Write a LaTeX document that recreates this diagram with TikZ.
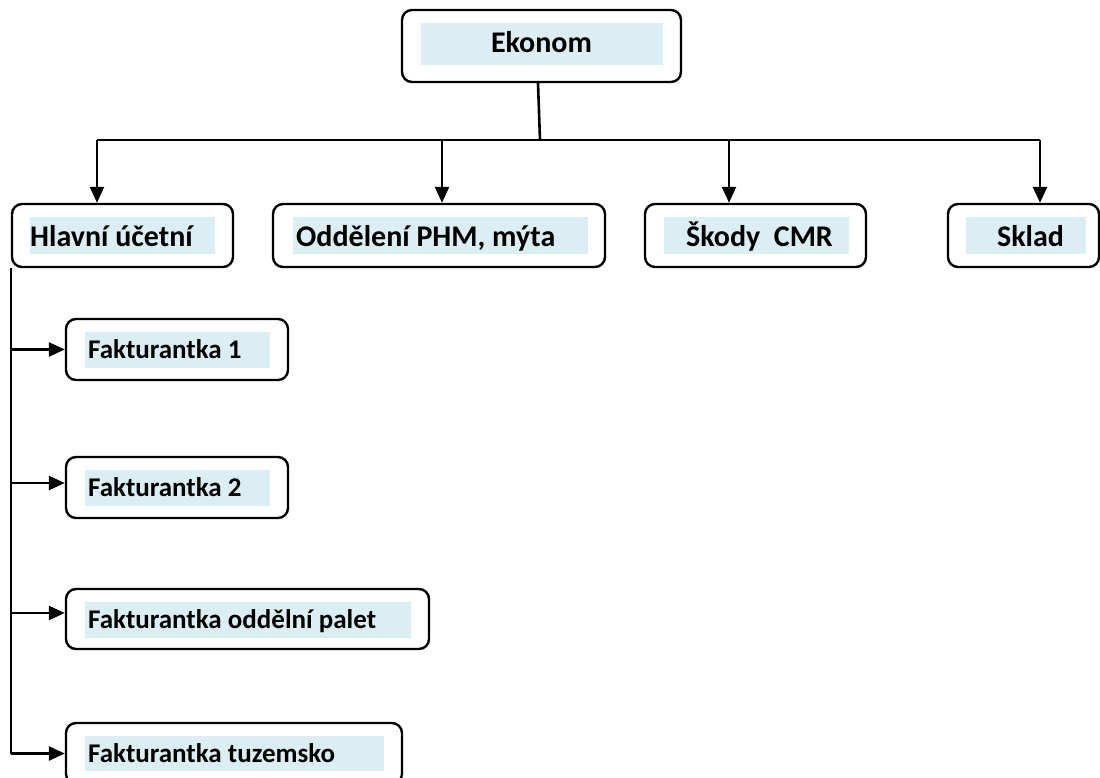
\documentclass[tikz,border=0pt]{standalone}
\usepackage{fontspec}
\setmainfont{Carlito}
\usetikzlibrary{arrows.meta}
\definecolor{boxblue}{RGB}{218,238,243}
\begin{document}
\begin{tikzpicture}[x=1pt,y=-1pt,
  obox/.style={draw=black, line width=2.4pt, rounded corners=10pt, fill=none, inner sep=0pt},
  bigtxt/.style={inner sep=0pt, font=\fontsize{30}{32}\selectfont\bfseries},
  smalltxt/.style={inner sep=0pt, font=\fontsize{27}{30}\selectfont\bfseries},
  conn/.style={draw=black, line width=2.6pt},
  arr/.style={conn, -{Triangle[length=16pt,width=14pt]}}]
\useasboundingbox (0,0) rectangle (1100,778);
% light blue text bands
\fill[boxblue] (421,23) rectangle (663,65);
\fill[boxblue] (30,217) rectangle (215,254);
\fill[boxblue] (293,217) rectangle (588,254);
\fill[boxblue] (664,217) rectangle (849,254);
\fill[boxblue] (966,217) rectangle (1086,254);
\fill[boxblue] (85,332) rectangle (270,368);
\fill[boxblue] (85,470) rectangle (270,506);
\fill[boxblue] (85,602) rectangle (411,638);
\fill[boxblue] (85,736) rectangle (384,771);
% boxes
\node[obox, minimum width=279pt, minimum height=72pt] (ekon) at (541.5,46) {};
\node[obox, minimum width=221pt, minimum height=63pt] (hlav) at (122.5,235.5) {};
\node[obox, minimum width=332pt, minimum height=63pt] (odd) at (439,235.5) {};
\node[obox, minimum width=221pt, minimum height=63pt] (skody) at (755.5,235.5) {};
\node[obox, minimum width=151pt, minimum height=63pt] (sklad) at (1023.5,235.5) {};
\node[obox, minimum width=222pt, minimum height=61pt] (f1) at (177,349.5) {};
\node[obox, minimum width=222pt, minimum height=61pt] (f2) at (177,487.5) {};
\node[obox, minimum width=363pt, minimum height=60pt] (fp) at (247.5,619) {};
\node[obox, minimum width=336pt, minimum height=61pt] (ft) at (234,753.5) {};
% texts
\node[bigtxt, anchor=base] (tekon) at (541.5,53) {Ekonom};
\node[bigtxt, anchor=base west] (thlav) at (30,247) {Hlavní účetní};
\node[bigtxt, anchor=base west] (todd) at (296,247) {Oddělení PHM, mýta};
\node[bigtxt, anchor=base] (tskody) at (759.5,246) {Škody~ CMR};
\node[bigtxt, anchor=base] (tsklad) at (1030.5,246) {Sklad};
\node[smalltxt, anchor=base west] (tf1) at (88,358) {Fakturantka 1};
\node[smalltxt, anchor=base west] (tf2) at (88,496) {Fakturantka 2};
\node[smalltxt, anchor=base west] (tfp) at (88,628) {Fakturantka oddělní palet};
\node[smalltxt, anchor=base west] (tft) at (88,762) {Fakturantka tuzemsko};
% bus coordinates
\coordinate (bus) at (540,140);
\coordinate (b1) at (97,140);
\coordinate (b2) at (442,140);
\coordinate (b3) at (729,140);
\coordinate (b4) at (1040,140);
\coordinate (a2) at ([yshift=4.5pt]f2.west);
\coordinate (a3) at ([yshift=6pt]fp.west);
% connectors
\draw[conn] ([xshift=-3.5pt]ekon.south) -- (bus);
\draw[conn] (b1) -- (b4);
\draw[arr] (b1) -- (b1 |- hlav.north);
\draw[arr] (b2) -- (b2 |- odd.north);
\draw[arr] (b3) -- (b3 |- skody.north);
\draw[arr] (b4) -- (b4 |- sklad.north);
\draw[conn] (hlav.south west) -- (hlav.south west |- ft.west);
\draw[arr] (hlav.south west |- f1.west) -- (f1.west);
\draw[arr] (hlav.south west |- a2) -- (a2);
\draw[arr] (hlav.south west |- a3) -- (a3);
\draw[arr] (hlav.south west |- ft.west) -- (ft.west);
\end{tikzpicture}
\end{document}
